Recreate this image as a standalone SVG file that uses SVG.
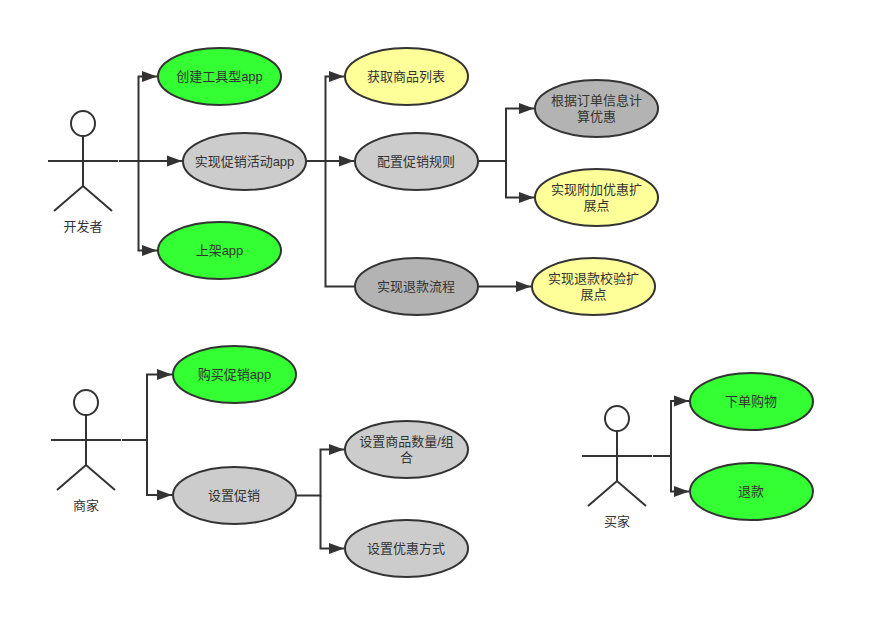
<svg xmlns="http://www.w3.org/2000/svg" width="874" height="638" viewBox="0 0 874 638">
<style>
  text { font-family: "Liberation Sans", "Noto Sans CJK SC", sans-serif; font-size: 13px; fill: #333; text-anchor: middle; }
  .uc { stroke: #333; stroke-width: 2; }
  .green { fill: #33ff33; }
  .gray { fill: #cccccc; }
  .dark { fill: #b3b3b3; }
  .yellow { fill: #ffff99; }
  .actor { fill: none; stroke: #333; stroke-width: 2; }
  .head { fill: #fff; stroke: #333; stroke-width: 2; }
  .link { fill: none; stroke: #333; stroke-width: 2; }
</style>
<defs>
  <marker id="arrow" markerUnits="userSpaceOnUse" markerWidth="15" markerHeight="12" refX="15" refY="6" orient="auto">
    <path d="M0 0.500L15 6L0 11.500Z" fill="#333"/>
  </marker>
</defs>

<g id="connectors">
  <path class="link" marker-end="url(#arrow)" d="M119 161H138.500V76.500H157"/>
  <path class="link" marker-end="url(#arrow)" d="M119 161H182"/>
  <path class="link" marker-end="url(#arrow)" d="M138.500 161V250.500H157"/>
  <path class="link" marker-end="url(#arrow)" d="M307 161H325.500V76.500H344"/>
  <path class="link" marker-end="url(#arrow)" d="M307 161H354"/>
  <path class="link" d="M325.500 161V286.500H354"/>
  <path class="link" marker-end="url(#arrow)" d="M479 161H506V108.500H534"/>
  <path class="link" marker-end="url(#arrow)" d="M506 161V197.500H534"/>
  <path class="link" marker-end="url(#arrow)" d="M479 286.500H531"/>
  <path class="link" marker-end="url(#arrow)" d="M122 440H147V374.500H172"/>
  <path class="link" marker-end="url(#arrow)" d="M147 440V495H172"/>
  <path class="link" marker-end="url(#arrow)" d="M297 495.500H320.500V449.500H344"/>
  <path class="link" marker-end="url(#arrow)" d="M320.500 495.500V548.500H344"/>
  <path class="link" marker-end="url(#arrow)" d="M653 456H671V401H689"/>
  <path class="link" marker-end="url(#arrow)" d="M671 456V491.500H689"/>
</g>

<g id="actor-developer">
  <ellipse class="head" cx="83" cy="123.500" rx="12" ry="12.500"/>
  <path class="actor" d="M83 136V186M48 161H118M54 211L83 186L112 211"/>
  <text x="83" y="231">开发者</text>
</g>
<g id="actor-merchant">
  <ellipse class="head" cx="86" cy="402.500" rx="12" ry="12.500"/>
  <path class="actor" d="M86 415V465M51 440H121M57 490L86 465L115 490"/>
  <text x="86" y="510">商家</text>
</g>
<g id="actor-buyer">
  <ellipse class="head" cx="617" cy="418.500" rx="12" ry="12.500"/>
  <path class="actor" d="M617 431V481M582 456H652M588 506L617 481L646 506"/>
  <text x="617" y="526">买家</text>
</g>

<g id="uc-create-app">
  <ellipse class="uc green" cx="219.500" cy="76.500" rx="61.500" ry="28.500"/>
  <text x="219.500" y="81">创建工具型app</text>
</g>
<g id="uc-promo-app">
  <ellipse class="uc gray" cx="244.500" cy="161.500" rx="61.500" ry="28.500"/>
  <text x="244.500" y="166">实现促销活动app</text>
</g>
<g id="uc-publish-app">
  <ellipse class="uc green" cx="219.500" cy="250.500" rx="61.500" ry="28.500"/>
  <text x="219.500" y="255">上架app</text>
</g>
<g id="uc-product-list">
  <ellipse class="uc yellow" cx="406.500" cy="76.500" rx="61.500" ry="28.500"/>
  <text x="406" y="81">获取商品列表</text>
</g>
<g id="uc-promo-rules">
  <ellipse class="uc gray" cx="416.500" cy="161.500" rx="61.500" ry="28.500"/>
  <text x="416" y="166">配置促销规则</text>
</g>
<g id="uc-refund-flow">
  <ellipse class="uc dark" cx="416.500" cy="286.500" rx="61.500" ry="28.500"/>
  <text x="416" y="291">实现退款流程</text>
</g>
<g id="uc-calc-discount">
  <ellipse class="uc dark" cx="596.500" cy="108.500" rx="61.500" ry="28.500"/>
  <text x="596.500" y="105">根据订单信息计</text>
  <text x="596.500" y="121">算优惠</text>
</g>
<g id="uc-extra-discount">
  <ellipse class="uc yellow" cx="596.500" cy="197.500" rx="61.500" ry="28.500"/>
  <text x="596.500" y="194">实现附加优惠扩</text>
  <text x="596.500" y="210">展点</text>
</g>
<g id="uc-refund-check">
  <ellipse class="uc yellow" cx="593.500" cy="286.500" rx="61.500" ry="28.500"/>
  <text x="593.500" y="283">实现退款校验扩</text>
  <text x="593.500" y="299">展点</text>
</g>
<g id="uc-buy-app">
  <ellipse class="uc green" cx="234.500" cy="374.500" rx="61.500" ry="28.500"/>
  <text x="234.500" y="379">购买促销app</text>
</g>
<g id="uc-set-promo">
  <ellipse class="uc gray" cx="234.500" cy="495.500" rx="61.500" ry="28.500"/>
  <text x="234" y="500">设置促销</text>
</g>
<g id="uc-set-quantity">
  <ellipse class="uc gray" cx="406.500" cy="449.500" rx="61.500" ry="28.500"/>
  <text x="406.500" y="446">设置商品数量/组</text>
  <text x="406.500" y="462">合</text>
</g>
<g id="uc-set-discount">
  <ellipse class="uc gray" cx="406.500" cy="548.500" rx="61.500" ry="28.500"/>
  <text x="406" y="553">设置优惠方式</text>
</g>
<g id="uc-order">
  <ellipse class="uc green" cx="751.500" cy="401.500" rx="61.500" ry="28.500"/>
  <text x="751" y="406">下单购物</text>
</g>
<g id="uc-refund">
  <ellipse class="uc green" cx="751.500" cy="491.500" rx="61.500" ry="28.500"/>
  <text x="751" y="496">退款</text>
</g>
</svg>
